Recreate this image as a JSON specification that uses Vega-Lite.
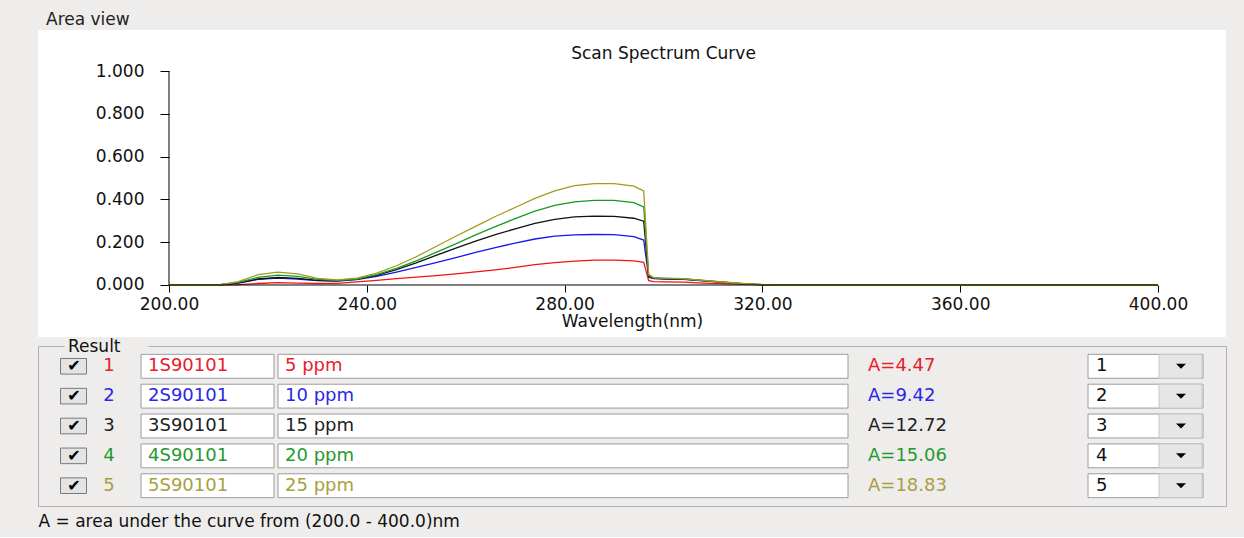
{
"$schema": "https://vega.github.io/schema/vega-lite/v6.json",
"background": "#efecec",
"padding": {"left": 37, "right": 19, "top": 11, "bottom": 7},
"config": {"font": "DejaVu Sans", "view": {"stroke": null}},
"title": {"text": "A = area under the curve from (200.0 - 400.0)nm", "orient": "bottom", "anchor": "start", "offset": 7, "fontSize": 17, "fontWeight": "normal", "color": "#111111", "dx": 1},
"spacing": 0,
"resolve": {"scale": {"x": "independent", "y": "independent", "color": "independent"}},
"datasets": {
"spectra": [
{"s":1,"w":200,"a":0},{"s":1,"w":210,"a":0},{"s":1,"w":214,"a":0.002},{"s":1,"w":218,"a":0.007},{"s":1,"w":222,"a":0.011},{"s":1,"w":226,"a":0.009},{"s":1,"w":230,"a":0.007},{"s":1,"w":234,"a":0.008},{"s":1,"w":238,"a":0.015},{"s":1,"w":242,"a":0.022},{"s":1,"w":246,"a":0.03},{"s":1,"w":250,"a":0.037},{"s":1,"w":254,"a":0.044},{"s":1,"w":258,"a":0.052},{"s":1,"w":262,"a":0.061},{"s":1,"w":266,"a":0.071},{"s":1,"w":270,"a":0.082},{"s":1,"w":274,"a":0.095},{"s":1,"w":278,"a":0.105},{"s":1,"w":282,"a":0.112},{"s":1,"w":286,"a":0.116},{"s":1,"w":290,"a":0.116},{"s":1,"w":294,"a":0.113},{"s":1,"w":296,"a":0.106},{"s":1,"w":297,"a":0.02},{"s":1,"w":298,"a":0.016},{"s":1,"w":300,"a":0.015},{"s":1,"w":304,"a":0.013},{"s":1,"w":308,"a":0.009},{"s":1,"w":312,"a":0.006},{"s":1,"w":316,"a":0.003},{"s":1,"w":320,"a":0.001},{"s":1,"w":322,"a":0},{"s":1,"w":400,"a":0},
{"s":2,"w":200,"a":0},{"s":2,"w":210,"a":0},{"s":2,"w":214,"a":0.009},{"s":2,"w":218,"a":0.026},{"s":2,"w":222,"a":0.032},{"s":2,"w":226,"a":0.028},{"s":2,"w":230,"a":0.02},{"s":2,"w":234,"a":0.018},{"s":2,"w":238,"a":0.025},{"s":2,"w":242,"a":0.04},{"s":2,"w":246,"a":0.06},{"s":2,"w":250,"a":0.082},{"s":2,"w":254,"a":0.105},{"s":2,"w":258,"a":0.128},{"s":2,"w":262,"a":0.152},{"s":2,"w":266,"a":0.175},{"s":2,"w":270,"a":0.196},{"s":2,"w":274,"a":0.215},{"s":2,"w":278,"a":0.228},{"s":2,"w":282,"a":0.234},{"s":2,"w":286,"a":0.236},{"s":2,"w":290,"a":0.235},{"s":2,"w":294,"a":0.226},{"s":2,"w":296,"a":0.21},{"s":2,"w":297,"a":0.036},{"s":2,"w":298,"a":0.03},{"s":2,"w":300,"a":0.028},{"s":2,"w":304,"a":0.026},{"s":2,"w":308,"a":0.019},{"s":2,"w":312,"a":0.012},{"s":2,"w":316,"a":0.005},{"s":2,"w":320,"a":0.001},{"s":2,"w":322,"a":0},{"s":2,"w":400,"a":0},
{"s":3,"w":200,"a":0},{"s":3,"w":210,"a":0},{"s":3,"w":214,"a":0.01},{"s":3,"w":218,"a":0.028},{"s":3,"w":222,"a":0.035},{"s":3,"w":226,"a":0.031},{"s":3,"w":230,"a":0.022},{"s":3,"w":234,"a":0.019},{"s":3,"w":238,"a":0.027},{"s":3,"w":242,"a":0.045},{"s":3,"w":246,"a":0.072},{"s":3,"w":250,"a":0.103},{"s":3,"w":254,"a":0.138},{"s":3,"w":258,"a":0.172},{"s":3,"w":262,"a":0.205},{"s":3,"w":266,"a":0.235},{"s":3,"w":270,"a":0.262},{"s":3,"w":274,"a":0.288},{"s":3,"w":278,"a":0.307},{"s":3,"w":282,"a":0.318},{"s":3,"w":286,"a":0.322},{"s":3,"w":290,"a":0.321},{"s":3,"w":294,"a":0.312},{"s":3,"w":296,"a":0.298},{"s":3,"w":297,"a":0.04},{"s":3,"w":298,"a":0.032},{"s":3,"w":300,"a":0.03},{"s":3,"w":304,"a":0.028},{"s":3,"w":308,"a":0.02},{"s":3,"w":312,"a":0.013},{"s":3,"w":316,"a":0.006},{"s":3,"w":320,"a":0.002},{"s":3,"w":322,"a":0},{"s":3,"w":400,"a":0},
{"s":4,"w":200,"a":0},{"s":4,"w":210,"a":0},{"s":4,"w":214,"a":0.012},{"s":4,"w":218,"a":0.036},{"s":4,"w":222,"a":0.046},{"s":4,"w":226,"a":0.04},{"s":4,"w":230,"a":0.026},{"s":4,"w":234,"a":0.021},{"s":4,"w":238,"a":0.028},{"s":4,"w":242,"a":0.048},{"s":4,"w":246,"a":0.078},{"s":4,"w":250,"a":0.113},{"s":4,"w":254,"a":0.152},{"s":4,"w":258,"a":0.192},{"s":4,"w":262,"a":0.234},{"s":4,"w":266,"a":0.273},{"s":4,"w":270,"a":0.31},{"s":4,"w":274,"a":0.345},{"s":4,"w":278,"a":0.372},{"s":4,"w":282,"a":0.388},{"s":4,"w":286,"a":0.395},{"s":4,"w":290,"a":0.395},{"s":4,"w":294,"a":0.385},{"s":4,"w":296,"a":0.365},{"s":4,"w":297,"a":0.045},{"s":4,"w":298,"a":0.033},{"s":4,"w":300,"a":0.031},{"s":4,"w":304,"a":0.029},{"s":4,"w":308,"a":0.021},{"s":4,"w":312,"a":0.013},{"s":4,"w":316,"a":0.006},{"s":4,"w":320,"a":0.002},{"s":4,"w":322,"a":0},{"s":4,"w":400,"a":0},
{"s":5,"w":200,"a":0},{"s":5,"w":210,"a":0},{"s":5,"w":214,"a":0.016},{"s":5,"w":218,"a":0.048},{"s":5,"w":222,"a":0.06},{"s":5,"w":226,"a":0.052},{"s":5,"w":230,"a":0.031},{"s":5,"w":234,"a":0.024},{"s":5,"w":238,"a":0.032},{"s":5,"w":242,"a":0.055},{"s":5,"w":246,"a":0.09},{"s":5,"w":250,"a":0.132},{"s":5,"w":254,"a":0.18},{"s":5,"w":258,"a":0.228},{"s":5,"w":262,"a":0.274},{"s":5,"w":266,"a":0.32},{"s":5,"w":270,"a":0.362},{"s":5,"w":274,"a":0.405},{"s":5,"w":278,"a":0.44},{"s":5,"w":282,"a":0.464},{"s":5,"w":286,"a":0.474},{"s":5,"w":290,"a":0.474},{"s":5,"w":294,"a":0.462},{"s":5,"w":296,"a":0.44},{"s":5,"w":297,"a":0.05},{"s":5,"w":298,"a":0.034},{"s":5,"w":300,"a":0.032},{"s":5,"w":304,"a":0.03},{"s":5,"w":308,"a":0.022},{"s":5,"w":312,"a":0.014},{"s":5,"w":316,"a":0.007},{"s":5,"w":320,"a":0.002},{"s":5,"w":322,"a":0},{"s":5,"w":400,"a":0}
],
"results": [
{"id":1,"sample":"1S90101","conc":"5 ppm","area":4.47},
{"id":2,"sample":"2S90101","conc":"10 ppm","area":9.42},
{"id":3,"sample":"3S90101","conc":"15 ppm","area":12.72},
{"id":4,"sample":"4S90101","conc":"20 ppm","area":15.06},
{"id":5,"sample":"5S90101","conc":"25 ppm","area":18.83}
]
},
"vconcat": [
{
"width": 1188, "height": 307,
"view": {"fill": "white", "stroke": null},
"title": {"text": "Area view", "anchor": "start", "dx": 8, "offset": 1, "fontSize": 17, "fontWeight": "normal", "color": "#222222"},
"layer": [
{"data": {"name": "spectra"},
 "mark": {"type": "line", "strokeWidth": 1.3},
 "encoding": {
  "x": {"field": "w", "type": "quantitative", "scale": {"domain": [173.51, 413.75], "nice": false, "zero": false},
        "axis": {"values": [200,240,280,320,360,400], "format": ".2f", "domain": false, "grid": false, "offset": -52, "tickSize": 7, "tickColor": "#000000", "labelPadding": 4, "labelFontSize": 17, "labelColor": "#111111", "labelFlush": false, "labelOverlap": false, "title": "Wavelength(nm)", "titleFontSize": 17, "titleFontWeight": "normal", "titleColor": "#111111", "titlePadding": 1}},
  "y": {"field": "a", "type": "quantitative", "scale": {"domain": [-0.243, 1.1916], "nice": false, "zero": false},
        "axis": {"values": [0,0.2,0.4,0.6,0.8,1], "format": ".3f", "domain": false, "grid": false, "offset": -131, "tickSize": 9, "tickColor": "#000000", "labelPadding": 16, "labelFontSize": 17, "labelColor": "#111111", "labelFlush": false, "labelOverlap": false, "title": null}},
  "color": {"field": "s", "type": "nominal", "scale": {"domain": [1,2,3,4,5], "range": ["#ee1515","#1515ee","#111111","#159a25","#a39a1c"]}, "legend": null}
 }},
{"data": {"values": [{}]}, "mark": {"type": "rule", "color": "#000000"},
 "encoding": {"x": {"datum": 200, "type": "quantitative"}, "x2": {"datum": 400}, "y": {"datum": 0, "type": "quantitative"}}},
{"data": {"values": [{}]}, "mark": {"type": "rule", "color": "#000000"},
 "encoding": {"x": {"datum": 200, "type": "quantitative"}, "y": {"datum": 0, "type": "quantitative"}, "y2": {"datum": 1}}},
{"data": {"values": [{"t": "Scan Spectrum Curve"}]}, "mark": {"type": "text", "fontSize": 17, "color": "#111111", "align": "center", "baseline": "middle"},
 "encoding": {"x": {"datum": 300, "type": "quantitative"}, "y": {"datum": 1.08, "type": "quantitative"}, "text": {"field": "t"}}}
]
},
{
"width": 1188, "height": 160,
"view": {"stroke": "#b0b0b0", "strokeDash": [26, 84, 5000], "fill": null},
"title": {"text": "Result", "anchor": "start", "dx": 30, "offset": -10, "fontSize": 17, "fontWeight": "normal", "color": "#111111"},
"data": {"name": "results"},
"transform": [{"calculate": "'A=' + format(datum.area, '.2f')", "as": "alabel"}],
"encoding": {"y": {"field": "id", "type": "ordinal", "axis": null, "scale": {"type": "band", "paddingInner": 0.2, "paddingOuter": 0.28}}},
"layer": [
{"mark": {"type": "point", "shape": "M-1,-0.6H1V0.6H-1Z", "size": 676, "filled": true, "fill": "#e4e4e4", "stroke": "#7a7a7a", "strokeWidth": 1, "opacity": 1},
 "encoding": {"x": {"datum": 35.5, "type": "quantitative", "scale": {"domain": [0, 1188], "nice": false, "zero": false}, "axis": null}}},
{"mark": {"type": "text", "text": "✔", "fontSize": 16, "color": "#000000"},
 "encoding": {"x": {"datum": 36, "type": "quantitative", "scale": {"domain": [0, 1188], "nice": false, "zero": false}, "axis": null}}},
{"mark": {"type": "text", "fontSize": 18, "align": "center"},
 "encoding": {"x": {"datum": 71, "type": "quantitative", "scale": {"domain": [0, 1188], "nice": false, "zero": false}, "axis": null}, "text": {"field": "id"},
  "color": {"field": "id", "type": "nominal", "scale": {"domain": [1,2,3,4,5], "range": ["#e8202a","#2828e6","#222222","#1f9a30","#a8a040"]}, "legend": null}}},
{"mark": {"type": "rect", "fill": "#ffffff", "stroke": "#9c9c9c", "strokeWidth": 1},
 "encoding": {"x": {"datum": 103, "type": "quantitative", "scale": {"domain": [0, 1188], "nice": false, "zero": false}, "axis": null}, "x2": {"datum": 236}}},
{"mark": {"type": "text", "fontSize": 18, "align": "left"},
 "encoding": {"x": {"datum": 110, "type": "quantitative", "scale": {"domain": [0, 1188], "nice": false, "zero": false}, "axis": null}, "text": {"field": "sample"},
  "color": {"field": "id", "type": "nominal", "scale": {"domain": [1,2,3,4,5], "range": ["#e8202a","#2828e6","#222222","#1f9a30","#a8a040"]}, "legend": null}}},
{"mark": {"type": "rect", "fill": "#ffffff", "stroke": "#9c9c9c", "strokeWidth": 1},
 "encoding": {"x": {"datum": 240, "type": "quantitative", "scale": {"domain": [0, 1188], "nice": false, "zero": false}, "axis": null}, "x2": {"datum": 810}}},
{"mark": {"type": "text", "fontSize": 18, "align": "left"},
 "encoding": {"x": {"datum": 247, "type": "quantitative", "scale": {"domain": [0, 1188], "nice": false, "zero": false}, "axis": null}, "text": {"field": "conc"},
  "color": {"field": "id", "type": "nominal", "scale": {"domain": [1,2,3,4,5], "range": ["#e8202a","#2828e6","#222222","#1f9a30","#a8a040"]}, "legend": null}}},
{"mark": {"type": "text", "fontSize": 18, "align": "left"},
 "encoding": {"x": {"datum": 830, "type": "quantitative", "scale": {"domain": [0, 1188], "nice": false, "zero": false}, "axis": null}, "text": {"field": "alabel"},
  "color": {"field": "id", "type": "nominal", "scale": {"domain": [1,2,3,4,5], "range": ["#e8202a","#2828e6","#222222","#1f9a30","#a8a040"]}, "legend": null}}},
{"mark": {"type": "rect", "fill": "#ffffff", "stroke": "#9c9c9c", "strokeWidth": 1},
 "encoding": {"x": {"datum": 1050, "type": "quantitative", "scale": {"domain": [0, 1188], "nice": false, "zero": false}, "axis": null}, "x2": {"datum": 1165}}},
{"mark": {"type": "rect", "fill": "#e6e6e6", "stroke": "#c8c8c8", "strokeWidth": 1},
 "encoding": {"x": {"datum": 1121, "type": "quantitative", "scale": {"domain": [0, 1188], "nice": false, "zero": false}, "axis": null}, "x2": {"datum": 1164}}},
{"mark": {"type": "point", "shape": "M-1,-0.5H1L0,0.5Z", "size": 100, "filled": true, "fill": "#000000", "opacity": 1},
 "encoding": {"x": {"datum": 1143, "type": "quantitative", "scale": {"domain": [0, 1188], "nice": false, "zero": false}, "axis": null}}},
{"mark": {"type": "text", "fontSize": 18, "align": "left", "color": "#111111"},
 "encoding": {"x": {"datum": 1058, "type": "quantitative", "scale": {"domain": [0, 1188], "nice": false, "zero": false}, "axis": null}, "text": {"field": "id"}}}
]
}
]
}
